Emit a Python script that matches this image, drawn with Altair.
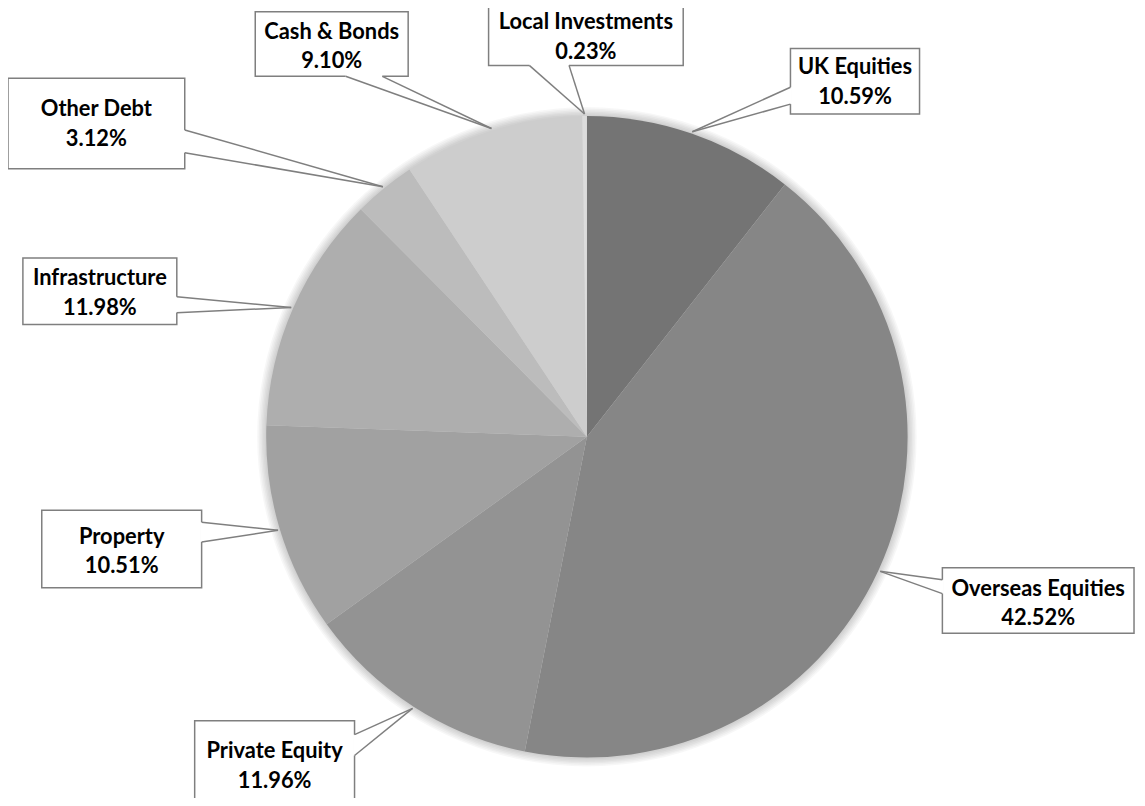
import math
import altair as alt
import pandas as pd

# ---------------- data ----------------
names = ["UK Equities", "Overseas Equities", "Private Equity", "Property",
         "Infrastructure", "Other Debt", "Cash & Bonds", "Local Investments"]
values = [10.59, 42.52, 11.96, 10.51, 11.98, 3.12, 9.10, 0.23]
pct_labels = ["10.59%", "42.52%", "11.96%", "10.51%", "11.98%", "3.12%", "9.10%", "0.23%"]
colors = ["#747474", "#868686", "#939393", "#a1a1a1", "#aeaeae", "#bcbcbc", "#cdcdcd", "#dcdcdc"]

# ---------------- layout (page pixels) ----------------
W, H = 1137, 790
ORIGIN = 8
CX, CY, R = 591, 437, 323
box_x1 = [796, 949, 196, 42, 23, 8, 257, 492]
box_x2 = [926, 1142, 357, 203, 178, 186, 411, 688]
box_y1 = [46, 569, 723, 511, 257, 76, 9, 1]
box_y2 = [112, 635, 815, 589, 324, 167, 74, 63]
text_cy = [80, 605, 769, 552.5, 292.5, 122, 44, 34.5]
att1 = [(796, 85), (949, 581), (357, 737), (203, 523), (178, 296), (186, 128), (348, 74), (533, 63)]
att2 = [(796, 102), (949, 595), (357, 758), (203, 543), (178, 312), (186, 151), (385, 74), (573, 63)]
LINE_GAP = 15

xs = alt.Scale(domain=[ORIGIN, ORIGIN + W], nice=False, zero=False)
ys = alt.Scale(domain=[ORIGIN, ORIGIN + H], nice=False, zero=False, reverse=True)

slices = pd.DataFrame({"name": names, "value": values, "order": list(range(len(names)))})

# tips of the leader lines: on the rim at each slice's mid angle
total = sum(values)
tips = []
cum = 0.0
for v in values:
    a = 2 * math.pi * (cum + v / 2) / total
    tips.append((CX + (R + 2) * math.sin(a), CY - (R + 2) * math.cos(a)))
    cum += v

boxes = pd.DataFrame({"name": names, "x1": box_x1, "x2": box_x2, "y1": box_y1, "y2": box_y2})
texts = pd.DataFrame({
    "name": names, "pct": pct_labels,
    "x": [(a + b) / 2 for a, b in zip(box_x1, box_x2)],
    "y1": [c - LINE_GAP for c in text_cy],
    "y2": [c + LINE_GAP for c in text_cy],
})
lead_rows = []
gap_rows = []
for i, n in enumerate(names):
    tx, ty = tips[i]
    for ax_, ay_ in (att1[i], att2[i]):
        lead_rows.append({"name": n, "x": tx, "y": ty, "x2": ax_, "y2": ay_})
    gap_rows.append({"name": n, "x": att1[i][0], "y": att1[i][1], "x2": att2[i][0], "y2": att2[i][1]})
leads = pd.DataFrame(lead_rows)
gaps = pd.DataFrame(gap_rows)

X0 = alt.X(datum=CX, type="quantitative", scale=xs, axis=None)
Y0 = alt.Y(datum=CY, type="quantitative", scale=ys, axis=None)

shadow_layers = []
for k in range(1, 7):
    shadow_layers.append(
        alt.Chart(pd.DataFrame({"one": [1]})).mark_arc(
            radius=R + 1.5 * k, theta=0, theta2=2 * math.pi, color="#000000", opacity=0.03
        ).encode(x=X0, y=Y0)
    )

pie = alt.Chart(slices).mark_arc(radius=R, stroke=None).encode(
    x=X0, y=Y0,
    theta=alt.Theta("value:Q", stack=True),
    order=alt.Order("order:Q"),
    color=alt.Color("name:N", scale=alt.Scale(domain=names, range=colors), legend=None),
)

box_layer = alt.Chart(boxes).mark_rect(fill="white", stroke="#7f7f7f", strokeWidth=1.5).encode(
    x=alt.X("x1:Q", scale=xs, axis=None), x2="x2:Q",
    y=alt.Y("y1:Q", scale=ys, axis=None), y2="y2:Q",
)

gap_layer = alt.Chart(gaps).mark_rule(color="white", strokeWidth=3).encode(
    x=alt.X("x:Q", scale=xs, axis=None), x2="x2:Q",
    y=alt.Y("y:Q", scale=ys, axis=None), y2="y2:Q",
)

lead_layer = alt.Chart(leads).mark_rule(color="#7f7f7f", strokeWidth=1.5).encode(
    x=alt.X("x:Q", scale=xs, axis=None), x2="x2:Q",
    y=alt.Y("y:Q", scale=ys, axis=None), y2="y2:Q",
)

font = dict(font="Lato", fontWeight="bold", fontSize=22, color="#000000",
            align="center", baseline="middle")
name_text = alt.Chart(texts).mark_text(**font).encode(
    x=alt.X("x:Q", scale=xs, axis=None), y=alt.Y("y1:Q", scale=ys, axis=None), text="name:N"
)
pct_text = alt.Chart(texts).mark_text(**font).encode(
    x=alt.X("x:Q", scale=xs, axis=None), y=alt.Y("y2:Q", scale=ys, axis=None), text="pct:N"
)

chart = alt.layer(
    *shadow_layers, pie, box_layer, gap_layer, lead_layer, name_text, pct_text
).properties(
    width=W, height=H, padding=0, autosize=alt.AutoSizeParams(type="none")
).configure_view(stroke=None).resolve_scale(color="independent")

chart.save("out.html", embed_options={"renderer": "svg", "actions": False})
